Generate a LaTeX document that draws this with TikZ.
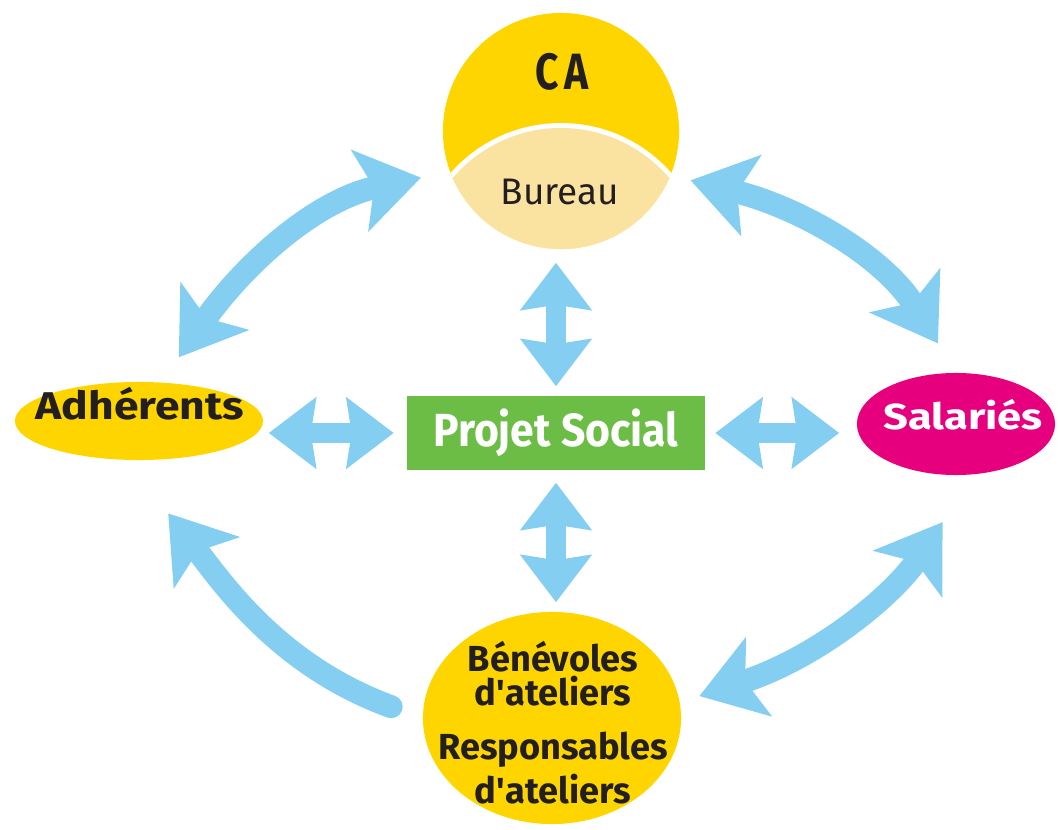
\documentclass[tikz,border=0pt]{standalone}
\usepackage{fontspec}
\setmainfont{Fira Sans}
\usetikzlibrary{arrows.meta,shapes.geometric,positioning}

\definecolor{jaune}{HTML}{FFD500}
\definecolor{jaunepale}{HTML}{FAE3A0}
\definecolor{bleu}{HTML}{84CEF1}
\definecolor{vert}{HTML}{6CBD45}
\definecolor{rose}{HTML}{E6007E}
\definecolor{encre}{HTML}{231F20}

\tikzset{
  fleche/.style={draw=bleu, line width=1.9mm, {Stealth[length=4.7mm,width=7mm,inset=0.5mm]}-{Stealth[length=4.7mm,width=7mm,inset=0.5mm]}},
  courbe/.style={draw=bleu, line width=2.3mm, {Stealth[length=6.2mm,width=8.2mm,inset=1.4mm]}-{Stealth[length=6.2mm,width=8.2mm,inset=1.4mm]}},
  retour/.style={draw=bleu, line width=2.3mm, line cap=round, -{Stealth[length=6.2mm,width=8.2mm,inset=1.4mm]}},
  texte/.style={text=encre, inner sep=0pt, font=\fontsize{10.3}{12}\selectfont\bfseries}
}

\begin{document}
\begin{tikzpicture}[x=0.01cm,y=0.01cm]
    \useasboundingbox (0,0) rectangle (1059,-830);

    % CA et bureau
    \node [circle, fill=jaune, minimum size=2.36cm, inner sep=0pt] (ca) at (561,-131) {};
    \begin{scope}
        \clip (ca.center) circle (118);
        \fill [white] (561,-270) circle (147);
        \fill [jaunepale] (561,-270) circle (142);
    \end{scope}
    \node [texte, font=\fontsize{14.5}{16}\selectfont\bfseries\addfontfeature{FakeStretch=0.8}] (ca-titre) at (562,-72) {C\kern1.5pt A};
    \node [texte, font=\fontsize{10.5}{12}\selectfont] (bureau) at (560,-192) {Bureau};

    % les autres acteurs
    \begin{scope}[every node/.append style={ellipse, inner sep=0pt}]
        \node [fill=jaune, minimum width=2.48cm, minimum height=0.78cm] (adh) at (139,-421) {};
        \node [fill=rose, minimum width=1.98cm, minimum height=1.02cm] (sal) at (956,-424) {};
        \node [fill=jaune, minimum width=2.58cm, minimum height=2.12cm] (ben) at (552,-718) {};
    \end{scope}
    \node [texte, font=\fontsize{11}{13}\selectfont\bfseries\addfontfeature{FakeStretch=1.15}] (adh-txt) at (140,-404) {Adhérents};
    \node [texte, text=white, font=\fontsize{10.3}{12}\selectfont\bfseries\addfontfeature{FakeStretch=1.2}] (sal-txt) at (963,-415) {Salariés};
    \node [texte, align=center, font=\fontsize{10.3}{9.7}\selectfont\bfseries] (ben-txt) at (553,-723)
        {Bénévoles\\d\textquotesingle ateliers\\[2mm]Responsables\\[0.3mm]d\textquotesingle ateliers};

    % projet social
    \node [rectangle, fill=vert, minimum width=2.97cm, minimum height=0.74cm, text=white,
        font=\fontsize{13.2}{15}\selectfont\bfseries\addfontfeature{FakeStretch=0.92}] (projet) at (556,-433) {Projet Social};

    % fleches droites
    \draw [fleche, shorten <=0.05cm, shorten >=0.13cm] (adh.east |- projet.west) -- (projet.west);
    \draw [fleche, shorten <=0.1cm, shorten >=0.17cm] (projet.east) -- (sal.west |- projet.east);
    \draw [fleche, shorten <=0.13cm, shorten >=0.09cm] (projet.north |- ca.south) -- (projet.north);
    \draw [fleche, shorten <=0.12cm, shorten >=0.09cm] (projet.south) -- (ben.north -| projet.south);

    % fleches courbes
    \draw [courbe, shorten <=0.3cm, shorten >=0.29cm] (adh.60) to [out=55, in=192] (ca.200);
    \draw [courbe, shorten <=0.2cm, shorten >=0.34cm] (ca.-22) to [out=-14, in=122] (sal.north);
    \draw [retour, shorten <=0.33cm, shorten >=0.67cm] (ben.west) to [out=160, in=-52] (adh.-107);
    \draw [courbe, shorten <=0.2cm, shorten >=0.57cm] (ben.7) to [out=18, in=236] (sal.-70);
\end{tikzpicture}
\end{document}
